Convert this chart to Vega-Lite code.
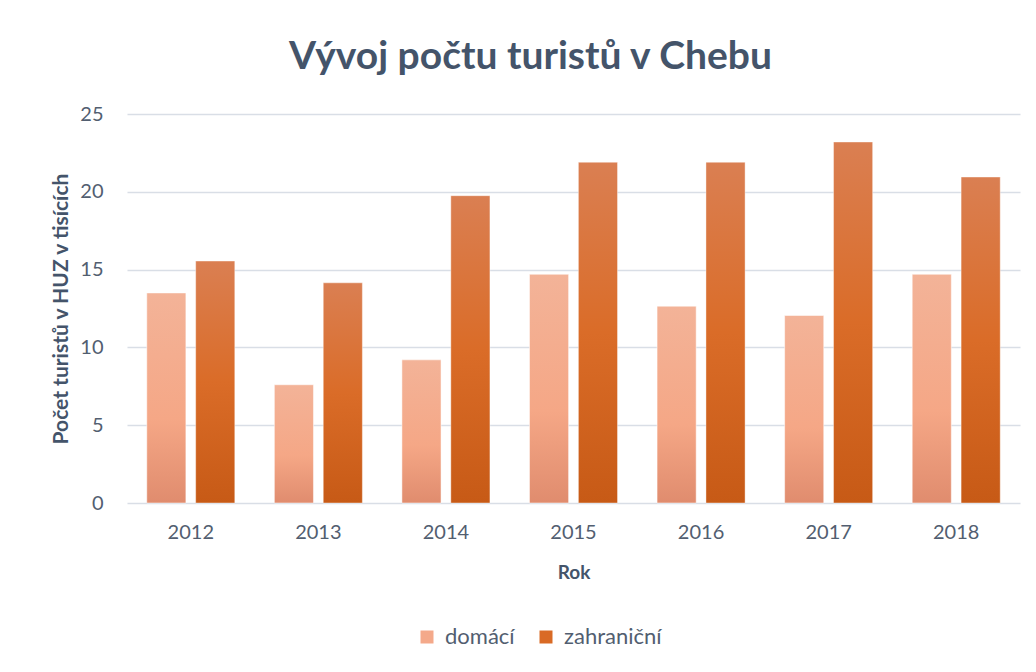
{
  "$schema": "https://vega.github.io/schema/vega-lite/v6.json",
  "width": 893,
  "height": 389,
  "autosize": "none",
  "padding": {"left": 127, "top": 114, "right": 16, "bottom": 169},
  "background": "white",
  "title": {
    "text": "Vývoj počtu turistů v Chebu",
    "font": "Lato",
    "fontSize": 39,
    "fontWeight": "bold",
    "color": "#44546A",
    "anchor": "middle",
    "dx": -43,
    "offset": 27
  },
  "config": {
    "view": {"stroke": null},
    "font": "Lato",
    "axis": {"labelFont": "Lato", "titleFont": "Lato", "labelColor": "#525E70", "titleColor": "#44546A"}
  },
  "data": {
    "values": [
      {"Rok": "2012", "typ": "domácí", "pocet": 13.5},
      {"Rok": "2012", "typ": "zahraniční", "pocet": 15.55},
      {"Rok": "2013", "typ": "domácí", "pocet": 7.6},
      {"Rok": "2013", "typ": "zahraniční", "pocet": 14.15},
      {"Rok": "2014", "typ": "domácí", "pocet": 9.2},
      {"Rok": "2014", "typ": "zahraniční", "pocet": 19.75},
      {"Rok": "2015", "typ": "domácí", "pocet": 14.7},
      {"Rok": "2015", "typ": "zahraniční", "pocet": 21.9},
      {"Rok": "2016", "typ": "domácí", "pocet": 12.65},
      {"Rok": "2016", "typ": "zahraniční", "pocet": 21.9},
      {"Rok": "2017", "typ": "domácí", "pocet": 12.05},
      {"Rok": "2017", "typ": "zahraniční", "pocet": 23.2},
      {"Rok": "2018", "typ": "domácí", "pocet": 14.7},
      {"Rok": "2018", "typ": "zahraniční", "pocet": 20.95}
    ]
  },
  "encoding": {
    "x": {
      "field": "Rok",
      "type": "nominal",
      "scale": {"paddingInner": 0.31, "paddingOuter": 0.155},
      "axis": {
        "labelAngle": 0,
        "labelFontSize": 20,
        "labelPadding": 19,
        "domain": false,
        "ticks": false,
        "title": "Rok",
        "titleFontSize": 19,
        "titleFontWeight": "bold",
        "titleY": 69,
        "titleBaseline": "middle"
      }
    },
    "xOffset": {
      "field": "typ",
      "type": "nominal",
      "scale": {"domain": ["domácí", "zahraniční"], "paddingInner": 0.2, "paddingOuter": 0}
    },
    "y": {
      "field": "pocet",
      "type": "quantitative",
      "scale": {"domain": [0, 25]},
      "axis": {
        "values": [0, 5, 10, 15, 20, 25],
        "labelFontSize": 20,
        "labelPadding": 24,
        "domain": false,
        "ticks": false,
        "gridColor": "#D9DEE6",
        "gridWidth": 1.5,
        "title": "Počet turistů v HUZ v tisících",
        "titleFontSize": 21,
        "titleFontWeight": "bold",
        "titleX": -66,
        "titleY": 194.5,
        "titleAngle": 270,
        "titleAlign": "center",
        "titleBaseline": "middle"
      }
    }
  },
  "layer": [
    {
      "transform": [{"filter": "datum.typ === 'domácí'"}],
      "mark": {
        "type": "bar",
        "stroke": "white",
        "strokeOpacity": 0.5,
        "strokeWidth": 1,
        "color": {
          "gradient": "linear", "x1": 0, "y1": 0, "x2": 0, "y2": 1,
          "stops": [
            {"offset": 0, "color": "#F3B398"},
            {"offset": 0.6, "color": "#F5A786"},
            {"offset": 1, "color": "#E08C6E"}
          ]
        }
      }
    },
    {
      "transform": [{"filter": "datum.typ === 'zahraniční'"}],
      "mark": {
        "type": "bar",
        "stroke": "white",
        "strokeOpacity": 0.4,
        "strokeWidth": 1,
        "color": {
          "gradient": "linear", "x1": 0, "y1": 0, "x2": 0, "y2": 1,
          "stops": [
            {"offset": 0, "color": "#DA7F52"},
            {"offset": 0.5, "color": "#DA6C28"},
            {"offset": 1, "color": "#C75A16"}
          ]
        }
      }
    },
    {
      "mark": {"type": "bar"},
      "encoding": {
        "y": {"datum": 0, "type": "quantitative"},
        "color": {
          "field": "typ",
          "type": "nominal",
          "scale": {"domain": ["domácí", "zahraniční"], "range": ["#F4A98A", "#D96A25"]},
          "legend": {
            "title": null,
            "orient": "none",
            "direction": "horizontal",
            "legendX": 289,
            "legendY": 512,
            "symbolType": "square",
            "symbolSize": 169,
            "symbolStrokeWidth": 0,
            "labelFontSize": 22,
            "labelFont": "Lato",
            "labelColor": "#525E70",
            "columnPadding": 20,
            "labelOffset": 7
          }
        }
      }
    }
  ]
}
